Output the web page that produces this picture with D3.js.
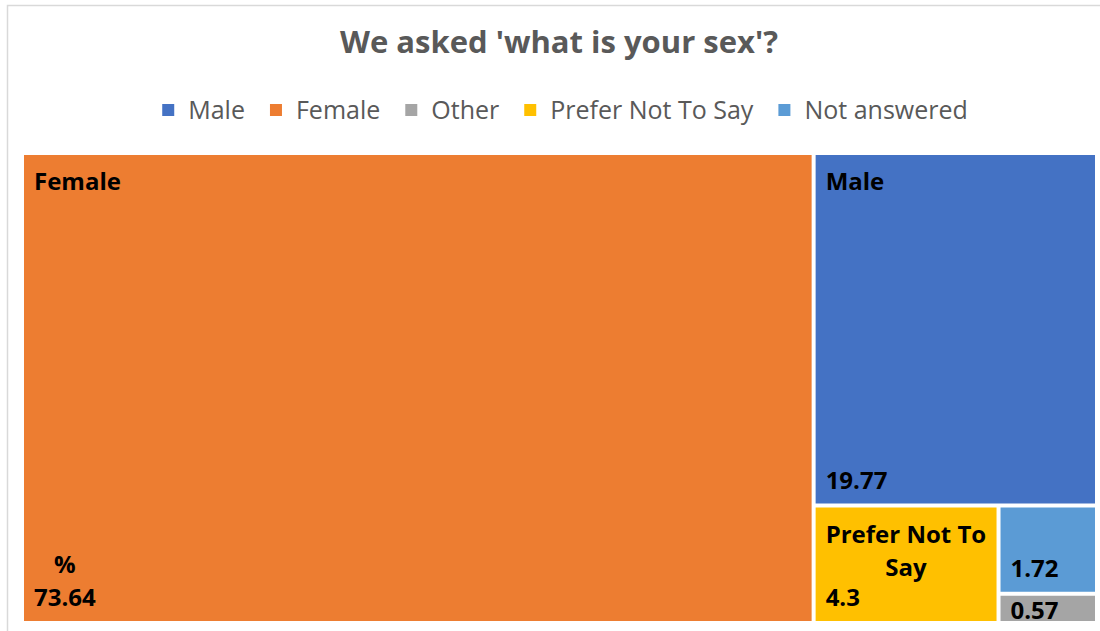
<!DOCTYPE html>
<html lang="en">

<head>
    <meta charset="utf-8">
    <title>sex treemap</title>
    <script src="https://cdn.jsdelivr.net/npm/d3@7/dist/d3.min.js"></script>
    <style>
        body { margin: 0; background: #fff; }
        text { font-family: 'Open Sans', sans-serif; }
    </style>
</head>

<body>
    <script>
        // data (legend order)
        var categories = ['Male', 'Female', 'Other', 'Prefer Not To Say', 'Not answered'];
        var values = [19.77, 73.64, 0.57, 4.3, 1.72];
        var unitLines = ['', '%', '', '', ''];
        var colors = ['#4472C4', '#ED7D31', '#A5A5A5', '#FFC000', '#5B9BD5'];

        var width = 1100, height = 631;
        var svg = d3.select('body').append('svg')
            .attr('width', width)
            .attr('height', height);

        // chart frame
        svg.append('rect')
            .attr('x', 7.5).attr('y', 5.5)
            .attr('width', 1200).attr('height', 800)
            .attr('fill', 'none')
            .attr('stroke', '#d9d9d9')
            .attr('stroke-width', 1.5);

        svg.append('text')
            .attr('x', 559).attr('y', 53)
            .attr('text-anchor', 'middle')
            .attr('fill', '#595959')
            .style('font-size', '31px')
            .style('font-weight', 'bold')
            .text("We asked 'what is your sex'?");

        // legend
        var legend = svg.append('g');
        var lx = 0;
        categories.forEach(function (c, i) {
            var g = legend.append('g').attr('transform', `translate(${lx},0)`);
            g.append('rect').attr('x', 0).attr('y', -6).attr('width', 12).attr('height', 12)
                .attr('fill', colors[i]);
            var t = g.append('text').attr('x', 26).attr('y', 9)
                .attr('fill', '#595959')
                .style('font-size', '25px')
                .text(c);
            lx += 26 + t.node().getComputedTextLength() + 25;
        });
        lx -= 25;
        legend.attr('transform', `translate(${565 - lx / 2},110)`);

        // treemap
        var x0 = 24, y0 = 155, x1 = 1095, y1 = 621;
        var root = d3.hierarchy({ children: categories.map((c, i) => ({ name: c, value: values[i], idx: i })) })
            .sum(d => d.value || 0)
            .sort((a, b) => b.value - a.value);
        d3.treemap()
            .tile(d3.treemapSquarify)
            .size([x1 - x0, y1 - y0])
            .paddingInner(4)(root);

        var lineH = 33, fs = '24px';
        var measure = svg.append('text').style('font-size', fs).style('font-weight', 'bold');
        function tw(s) { measure.text(s); return measure.node().getComputedTextLength(); }

        function wrap(str, maxW) {
            var words = str.split(' '), lines = [], cur = '';
            words.forEach(w => {
                var test = cur ? cur + ' ' + w : w;
                if (cur && tw(test) > maxW) { lines.push(cur); cur = w; } else cur = test;
            });
            lines.push(cur);
            return lines;
        }

        var cells = svg.append('g').attr('transform', `translate(${x0},${y0})`)
            .selectAll('g').data(root.leaves()).enter().append('g');

        cells.append('clipPath').attr('id', d => 'clip' + d.data.idx)
            .append('rect')
            .attr('x', d => d.x0).attr('y', d => d.y0)
            .attr('width', d => d.x1 - d.x0).attr('height', d => d.y1 - d.y0);

        cells.append('rect')
            .attr('x', d => d.x0).attr('y', d => d.y0)
            .attr('width', d => d.x1 - d.x0).attr('height', d => d.y1 - d.y0)
            .attr('fill', d => colors[d.data.idx]);

        function block(g, lines, x, yFirst) {
            var mw = d3.max(lines, tw);
            lines.forEach((l, k) => {
                g.append('text')
                    .attr('x', x + mw / 2).attr('y', yFirst + k * lineH)
                    .attr('text-anchor', 'middle')
                    .attr('fill', '#000')
                    .style('font-size', fs)
                    .style('font-weight', 'bold')
                    .text(l);
            });
        }

        cells.each(function (d) {
            var g = d3.select(this).append('g').attr('clip-path', `url(#clip${d.data.idx})`);
            var w = d.x1 - d.x0, h = d.y1 - d.y0;
            var vLines = [];
            if (unitLines[d.data.idx]) vLines.push(unitLines[d.data.idx]);
            vLines.push(String(d.data.value));
            var nLines = wrap(d.data.name, w - 20);
            var lastBase = Math.max(d.y1 - 15, d.y0 + 23);
            if (h >= (nLines.length + vLines.length) * lineH + 10) {
                block(g, nLines, d.x0 + 10, d.y0 + 35);
            }
            block(g, vLines, d.x0 + 10, lastBase - (vLines.length - 1) * lineH);
        });
        measure.remove();
    </script>
</body>

</html>
